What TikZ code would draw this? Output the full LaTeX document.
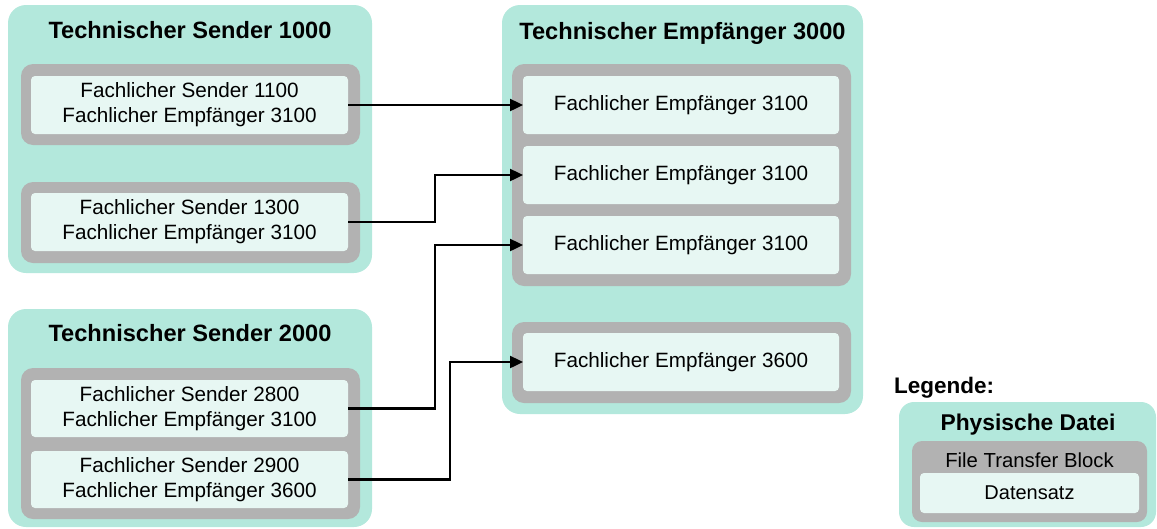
\documentclass[tikz,border=0pt]{standalone}
\usepackage{fontspec}
\setmainfont{Liberation Sans}
\usetikzlibrary{arrows.meta}
\definecolor{tealbg}{RGB}{179,232,220}
\definecolor{graybg}{RGB}{178,178,178}
\definecolor{lightbg}{RGB}{231,247,243}
\tikzset{
  outerbox/.style={fill=tealbg, rounded corners=18pt, inner sep=0pt, outer sep=0pt},
  graybox/.style={fill=graybg, rounded corners=12pt, inner sep=0pt, outer sep=0pt},
  recbox/.style={fill=lightbg, rounded corners=4pt, inner sep=0pt, outer sep=0pt, align=center, font=\fontsize{20.7}{24.8}\selectfont},
  titletext/.style={font=\bfseries\fontsize{23.6}{28}\selectfont, inner sep=0pt},
  arr/.style={line width=2.4pt, -{Triangle[length=13pt,width=12pt]}},
}
\begin{document}
\begin{tikzpicture}[x=1pt,y=-1pt]
\useasboundingbox (0,0) rectangle (1157,528);
% Technischer Sender 1000
\node[outerbox, minimum width=364pt, minimum height=268pt] (ts1) at (190,139) {};
\node[titletext] (ts1t) at (190,30) {Technischer Sender 1000};
\node[graybox, minimum width=339pt, minimum height=81pt] (g1) at (190.5,104.5) {};
\node[recbox, minimum width=317pt, minimum height=58pt] (s1) at (189.5,105) {Fachlicher Sender 1100\\Fachlicher Empfänger 3100};
\node[graybox, minimum width=339pt, minimum height=81pt] (g2) at (190.5,222.5) {};
\node[recbox, minimum width=317pt, minimum height=58pt] (s2) at (189.5,222) {Fachlicher Sender 1300\\Fachlicher Empfänger 3100};
% Technischer Sender 2000
\node[outerbox, minimum width=364pt, minimum height=218pt] (ts2) at (190,418) {};
\node[titletext] (ts2t) at (190,333) {Technischer Sender 2000};
\node[graybox, minimum width=339pt, minimum height=151pt] (g3) at (190.5,443.5) {};
\node[recbox, minimum width=317pt, minimum height=57pt] (s3) at (189.5,408.5) {Fachlicher Sender 2800\\Fachlicher Empfänger 3100};
\node[recbox, minimum width=317pt, minimum height=57pt] (s4) at (189.5,479.5) {Fachlicher Sender 2900\\Fachlicher Empfänger 3600};
% Technischer Empfaenger 3000
\node[outerbox, minimum width=361pt, minimum height=409pt] (te) at (682.5,209.5) {};
\node[titletext] (tet) at (682.5,33) {Technischer Empfänger 3000};
\node[graybox, minimum width=339pt, minimum height=222pt] (g4) at (681.5,175) {};
\node[recbox, minimum width=316pt, minimum height=58pt] (r1) at (681,105) {Fachlicher Empfänger 3100};
\node[recbox, minimum width=316pt, minimum height=58pt] (r2) at (681,175) {Fachlicher Empfänger 3100};
\node[recbox, minimum width=316pt, minimum height=58pt] (r3) at (681,245) {Fachlicher Empfänger 3100};
\node[graybox, minimum width=339pt, minimum height=81pt] (g5) at (681.5,362.5) {};
\node[recbox, minimum width=316pt, minimum height=58pt] (r4) at (681,362) {Fachlicher Empfänger 3600};
% Connectors
\draw[arr] (s1.east) -- (r1.west);
\draw[arr] (s2.east) -- ++(87,0) |- (r2.west);
\draw[arr] (s3.east) -- ++(87,0) |- (r3.west);
\draw[arr] (s4.east) -- ++(102,0) |- (r4.west);
% Legend
\node[anchor=west, inner sep=0pt, font=\bfseries\fontsize{22.5}{26}\selectfont] (leg) at (894,388) {Legende:};
\node[outerbox, rounded corners=15pt, minimum width=257pt, minimum height=125pt] (lt) at (1027.5,464.5) {};
\node[titletext, font=\bfseries\fontsize{22.8}{26}\selectfont] (ltt) at (1028,425) {Physische Datei};
\node[graybox, rounded corners=10pt, minimum width=235pt, minimum height=81pt] (lg) at (1029.5,481.5) {};
\node[inner sep=0pt, font=\fontsize{20.3}{24}\selectfont] (lgt) at (1029.5,460) {File Transfer Block};
\node[recbox, font=\fontsize{20}{24}\selectfont, minimum width=219pt, minimum height=40pt] (lr) at (1029.5,493) {Datensatz};
\end{tikzpicture}
\end{document}
